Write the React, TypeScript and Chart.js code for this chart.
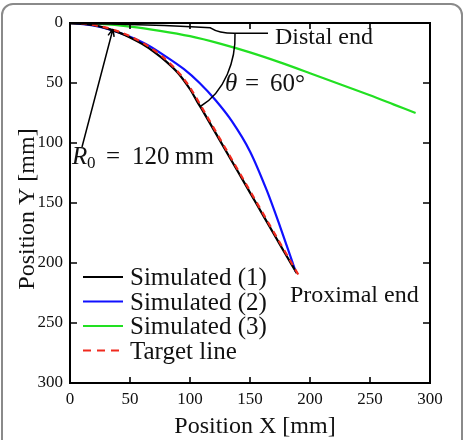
import React, { useEffect, useRef } from "react";
import { Chart, registerables } from "chart.js";

Chart.register(...registerables);

// ---- data (mm) ----
const seriesLabels = ["Simulated (1)", "Simulated (2)", "Simulated (3)", "Target line"];
const seriesColors = ["#000000", "#1010ff", "#22e022", "#f02a1e"];

const sim1X = [0, 10, 20, 30, 40, 50, 60, 70, 80, 90, 100, 106, 112, 125, 140, 155, 170, 180, 189];
const sim1Y = [0, 0.5, 1.9, 4.3, 7.6, 12.0, 17.4, 24.0, 32.0, 41.7, 55.2, 65.5, 75.5, 98.0, 124.0, 150.0, 176.0, 193.3, 208.5];

const sim2X = [0, 20, 35, 50, 65, 80, 95, 108, 121, 135, 150, 164, 175, 188];
const sim2Y = [0, 2.2, 6.0, 11.5, 18.5, 28.0, 38.5, 50.0, 64.0, 82.0, 107.0, 139.5, 169.5, 207.0];

const sim3X = [0, 25, 50, 75, 100, 125, 150, 175, 200, 225, 250, 270, 288];
const sim3Y = [0, 0.8, 3.0, 6.5, 11.0, 17.2, 24.5, 32.8, 41.8, 51.0, 60.2, 68.0, 75.0];

const targetX = [0, 10.46, 20.84, 31.06, 41.04, 50.71, 60.0, 68.83, 77.13, 84.85, 91.93, 98.3, 103.92, 191.0];
const targetY = [0, 0.46, 1.82, 4.09, 7.24, 11.24, 16.08, 21.7, 28.07, 35.15, 42.87, 51.17, 60.0, 211.0];

const axisTicks = [0, 50, 100, 150, 200, 250, 300];
const axisMin = 0;
const axisMax = 300;

const FONT = '"Liberation Serif", "Times New Roman", serif';

export default function App() {
  const ref = useRef<HTMLCanvasElement>(null);

  useEffect(() => {
    const canvas = ref.current;
    if (!canvas) return;
    const pts = (xs: number[], ys: number[]) => xs.map((x, i) => ({ x, y: ys[i] }));

    const overlay = {
      id: "overlay",
      afterDatasetsDraw(chart: any) {
        const ctx = chart.ctx as CanvasRenderingContext2D;
        const xs = chart.scales.x;
        const ys = chart.scales.y;
        const { left, right, top, bottom } = chart.chartArea;
        const px = (v: number) => xs.getPixelForValue(v);
        const py = (v: number) => ys.getPixelForValue(v);
        ctx.save();

        // plot frame
        ctx.strokeStyle = "#000";
        ctx.lineWidth = 2;
        ctx.strokeRect(left, top, right - left, bottom - top);

        // inward ticks on all sides
        ctx.lineWidth = 1.6;
        ctx.beginPath();
        for (const t of axisTicks) {
          const x = px(t);
          ctx.moveTo(x, bottom);
          ctx.lineTo(x, bottom - 6);
          ctx.moveTo(x, top);
          ctx.lineTo(x, top + 6);
          const y = py(t);
          ctx.moveTo(left, y);
          ctx.lineTo(left + 7, y);
          ctx.moveTo(right, y);
          ctx.lineTo(right - 7, y);
        }
        ctx.stroke();

        // "Distal end" leader
        ctx.lineWidth = 1.5;
        ctx.beginPath();
        ctx.moveTo(px(0), py(0.6));
        ctx.quadraticCurveTo(px(70), py(0.8), px(117), py(4.0));
        ctx.quadraticCurveTo(px(124), py(8.6), px(137), py(8.6));
        ctx.lineTo(px(165), py(8.6));
        ctx.stroke();

        // angle arc
        ctx.beginPath();
        ctx.moveTo(px(137.5), py(8.6));
        ctx.bezierCurveTo(px(138.3), py(30.8), px(129.2), py(57.5), px(108.3), py(69.8));
        ctx.stroke();

        // R0 arrow
        const ax0 = px(10), ay0 = py(103.3), ax1 = px(35.8), ay1 = py(5.0);
        ctx.beginPath();
        ctx.moveTo(ax0, ay0);
        ctx.lineTo(ax1, ay1);
        const ang = Math.atan2(ay1 - ay0, ax1 - ax0);
        const hl = 8;
        ctx.moveTo(ax1, ay1);
        ctx.lineTo(ax1 - hl * Math.cos(ang - 0.4), ay1 - hl * Math.sin(ang - 0.4));
        ctx.moveTo(ax1, ay1);
        ctx.lineTo(ax1 - hl * Math.cos(ang + 0.4), ay1 - hl * Math.sin(ang + 0.4));
        ctx.stroke();

        // texts
        ctx.fillStyle = "#111";
        ctx.textAlign = "left";
        ctx.textBaseline = "alphabetic";
        ctx.font = `24px ${FONT}`;
        ctx.fillText("Distal end", 275, 44);
        ctx.fillText("Proximal end", 290, 302);

        // theta = 60°
        ctx.font = `italic 25px ${FONT}`;
        ctx.fillText("θ", 225, 91);
        ctx.font = `25px ${FONT}`;
        ctx.fillText("=", 245, 91);
        ctx.fillText("60°", 270, 91);

        // R0 = 120 mm
        ctx.font = `italic 25px ${FONT}`;
        ctx.fillText("R", 72, 164);
        ctx.font = `17px ${FONT}`;
        ctx.fillText("0", 87, 168);
        ctx.font = `25px ${FONT}`;
        ctx.fillText("=", 106, 164);
        ctx.fillText("120", 132, 164);
        ctx.fillText("mm", 175, 164);

        // axis titles
        ctx.font = `24px ${FONT}`;
        ctx.textAlign = "center";
        ctx.fillText("Position X [mm]", 255, 433);
        ctx.save();
        ctx.translate(33.5, 209);
        ctx.rotate(-Math.PI / 2);
        ctx.fillText("Position Y [mm]", 0, 0);
        ctx.restore();

        // legend
        ctx.textAlign = "left";
        ctx.font = `25px ${FONT}`;
        const baselines = [285, 309.5, 334, 358.5];
        seriesLabels.forEach((lab, i) => {
          const yl = baselines[i] - 8;
          ctx.strokeStyle = seriesColors[i];
          ctx.lineWidth = 2.2;
          ctx.setLineDash(i === 3 ? [8, 6] : []);
          ctx.beginPath();
          ctx.moveTo(83, yl);
          ctx.lineTo(123, yl);
          ctx.stroke();
          ctx.setLineDash([]);
          ctx.fillStyle = "#111";
          ctx.fillText(lab, 130, baselines[i]);
        });

        ctx.restore();
      },
    };

    const mk = (i: number, xs: number[], ys: number[], order: number, dashed = false, tension = 0.3) => ({
      label: seriesLabels[i],
      data: pts(xs, ys),
      showLine: true,
      borderColor: seriesColors[i],
      backgroundColor: seriesColors[i],
      borderWidth: 2.2,
      borderDash: dashed ? [6, 5] : [],
      pointRadius: 0,
      tension,
      order,
    });

    const chart = new Chart(canvas, {
      type: "scatter",
      data: {
        datasets: [
          mk(0, sim1X, sim1Y, 1),
          mk(1, sim2X, sim2Y, 2),
          mk(2, sim3X, sim3Y, 3),
          mk(3, targetX, targetY, 0, true, 0),
        ] as any,
      },
      options: {
        animation: false,
        responsive: false,
        maintainAspectRatio: false,
        layout: { padding: { left: 0, right: 39, top: 23, bottom: 0 } },
        plugins: { legend: { display: false }, tooltip: { enabled: false } },
        scales: {
          x: {
            type: "linear",
            min: axisMin,
            max: axisMax,
            grid: { display: false, drawTicks: false },
            border: { display: false },
            ticks: {
              stepSize: 50,
              color: "#111",
              font: { family: FONT, size: 17 },
              padding: 6,
              maxRotation: 0,
            },
            afterFit: (s: any) => {
              s.height = 57;
            },
          },
          y: {
            type: "linear",
            reverse: true,
            min: axisMin,
            max: axisMax,
            grid: { display: false, drawTicks: false },
            border: { display: false },
            ticks: {
              stepSize: 50,
              color: "#111",
              font: { family: FONT, size: 17 },
              padding: 7,
            },
            afterFit: (s: any) => {
              s.width = 70;
            },
          },
        },
      } as any,
      plugins: [overlay],
    });
    return () => chart.destroy();
  }, []);

  return (
    <div
      style={{
        position: "fixed",
        left: 0,
        top: 0,
        width: 469,
        height: 440,
        overflow: "hidden",
        background: "#fff",
      }}
    >
      <div
        style={{
          position: "absolute",
          left: 1,
          top: 3,
          width: 458,
          height: 470,
          border: "2px solid #8a8a8a",
          borderRadius: 12,
        }}
      />
      <canvas ref={ref} width={469} height={440} style={{ position: "absolute", left: 0, top: 0 }} />
    </div>
  );
}
